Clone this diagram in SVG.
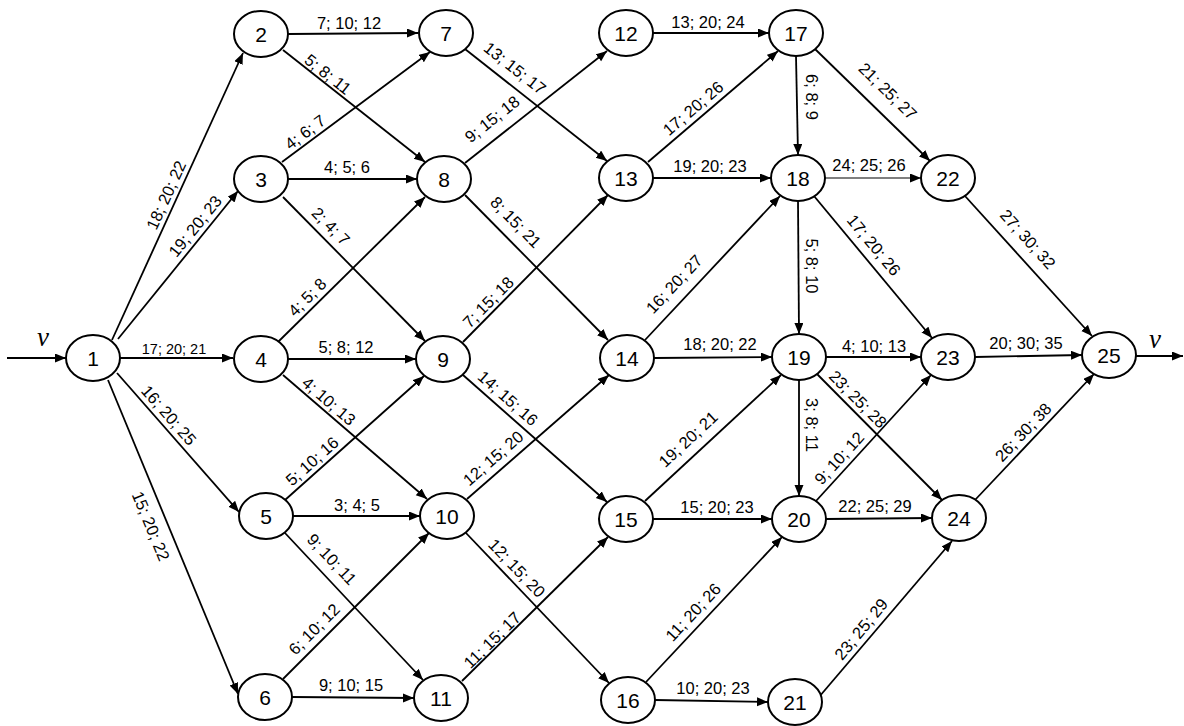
<svg xmlns="http://www.w3.org/2000/svg" width="1184" height="726" viewBox="0 0 1184 726">
<defs>
<marker id="ah" markerUnits="userSpaceOnUse" markerWidth="12" markerHeight="10" refX="11" refY="4.5" orient="auto">
<path d="M0,0 L11,4.5 L0,9 Z" fill="#000"/>
</marker>
<style>
.e{stroke:#000;stroke-width:1.8;fill:none;marker-end:url(#ah)}
.thin{stroke-width:1.2}
.n ellipse{fill:#fff;stroke:#000;stroke-width:2}
.n text{font-family:"Liberation Sans",Arial,sans-serif;font-size:21px;text-anchor:middle;dominant-baseline:central;fill:#000}
.l{font-family:"Liberation Sans",Arial,sans-serif;font-size:16.5px;text-anchor:middle;dominant-baseline:central;fill:#000}
.v{font-family:"Liberation Serif","Times New Roman",serif;font-style:italic;font-size:27px;text-anchor:middle;fill:#000}
</style>
</defs>
<rect width="1184" height="726" fill="#fff"/>
<g id="connectors">
<path class="e" d="M7,358 L66,358"/>
<path class="e" d="M112,340 L243,53"/>
<path class="e" d="M118,339 L238,191"/>
<path class="e" d="M120,358 L233,358"/>
<path class="e" d="M117,373 L239,512"/>
<path class="e" d="M108,380 L238,694"/>
<path class="e" d="M288,34 L418,33"/>
<path class="e" d="M283,50 L425,162"/>
<path class="e" d="M282,162 L430,52"/>
<path class="e" d="M288,179 L417,179"/>
<path class="e" d="M283,197 L425,341"/>
<path class="e" d="M278,342 L425,197"/>
<path class="e" d="M288,359 L416,359"/>
<path class="e" d="M283,375 L427,499"/>
<path class="e" d="M285,500 L424,376"/>
<path class="e" d="M293,516 L420,516"/>
<path class="e" d="M285,533 L423,680"/>
<path class="e" d="M283,679 L429,533"/>
<path class="e" d="M292,697 L414,698"/>
<path class="e" d="M465,49 L607,161"/>
<path class="e" d="M465,163 L607,51"/>
<path class="e" d="M465,195 L608,340"/>
<path class="e" d="M463,342 L608,195"/>
<path class="e" d="M463,375 L607,502"/>
<path class="e" d="M467,499 L609,375"/>
<path class="e" d="M466,533 L609,683"/>
<path class="e" d="M462,681 L608,537"/>
<path class="e" d="M653,33 L769,33"/>
<path class="e" d="M648,162 L778,51"/>
<path class="e" d="M653,178 L771,178"/>
<path class="e" d="M645,340 L780,196"/>
<path class="e" d="M654,358 L772,357"/>
<path class="e" d="M645,501 L781,375"/>
<path class="e" d="M653,519 L772,519"/>
<path class="e" d="M646,682 L782,537"/>
<path class="e" d="M655,700 L768,702"/>
<path class="e" d="M796,56 L798,155"/>
<path class="e" d="M815,49 L930,161"/>
<path class="e thin" d="M825,178 L921,178"/>
<path class="e" d="M798,201 L799,334"/>
<path class="e" d="M814,196 L932,338"/>
<path class="e" d="M799,380 L799,496"/>
<path class="e" d="M826,357 L921,357"/>
<path class="e" d="M817,374 L942,500"/>
<path class="e" d="M816,501 L931,375"/>
<path class="e" d="M826,519 L932,518"/>
<path class="e" d="M819,697 L952,541"/>
<path class="e" d="M965,196 L1092,336"/>
<path class="e" d="M975,357 L1082,355"/>
<path class="e" d="M975,500 L1094,374"/>
<path class="e" d="M1136,356 L1183,356"/>
</g>
<g id="node1" class="n"><ellipse cx="93" cy="358" rx="27" ry="23"/><text x="93" y="358">1</text></g>
<g id="node2" class="n"><ellipse cx="261" cy="34" rx="27" ry="23"/><text x="261" y="34">2</text></g>
<g id="node3" class="n"><ellipse cx="261" cy="179" rx="27" ry="23"/><text x="261" y="179">3</text></g>
<g id="node4" class="n"><ellipse cx="261" cy="359" rx="27" ry="23"/><text x="261" y="359">4</text></g>
<g id="node5" class="n"><ellipse cx="266" cy="516" rx="27" ry="23"/><text x="266" y="516">5</text></g>
<g id="node6" class="n"><ellipse cx="265" cy="697" rx="27" ry="23"/><text x="265" y="697">6</text></g>
<g id="node7" class="n"><ellipse cx="446" cy="33" rx="27" ry="23"/><text x="446" y="33">7</text></g>
<g id="node8" class="n"><ellipse cx="444" cy="179" rx="27" ry="23"/><text x="444" y="179">8</text></g>
<g id="node9" class="n"><ellipse cx="443" cy="359" rx="27" ry="23"/><text x="443" y="359">9</text></g>
<g id="node10" class="n"><ellipse cx="447" cy="516" rx="27" ry="23"/><text x="447" y="516">10</text></g>
<g id="node11" class="n"><ellipse cx="441" cy="698" rx="27" ry="23"/><text x="441" y="698">11</text></g>
<g id="node12" class="n"><ellipse cx="626" cy="33" rx="27" ry="23"/><text x="626" y="33">12</text></g>
<g id="node13" class="n"><ellipse cx="626" cy="178" rx="27" ry="23"/><text x="626" y="178">13</text></g>
<g id="node14" class="n"><ellipse cx="627" cy="358" rx="27" ry="23"/><text x="627" y="358">14</text></g>
<g id="node15" class="n"><ellipse cx="626" cy="519" rx="27" ry="23"/><text x="626" y="519">15</text></g>
<g id="node16" class="n"><ellipse cx="628" cy="700" rx="27" ry="23"/><text x="628" y="700">16</text></g>
<g id="node17" class="n"><ellipse cx="796" cy="33" rx="27" ry="23"/><text x="796" y="33">17</text></g>
<g id="node18" class="n"><ellipse cx="798" cy="178" rx="27" ry="23"/><text x="798" y="178">18</text></g>
<g id="node19" class="n"><ellipse cx="799" cy="357" rx="27" ry="23"/><text x="799" y="357">19</text></g>
<g id="node20" class="n"><ellipse cx="799" cy="519" rx="27" ry="23"/><text x="799" y="519">20</text></g>
<g id="node21" class="n"><ellipse cx="795" cy="702" rx="27" ry="23"/><text x="795" y="702">21</text></g>
<g id="node22" class="n"><ellipse cx="948" cy="178" rx="27" ry="23"/><text x="948" y="178">22</text></g>
<g id="node23" class="n"><ellipse cx="948" cy="357" rx="27" ry="23"/><text x="948" y="357">23</text></g>
<g id="node24" class="n"><ellipse cx="959" cy="518" rx="27" ry="23"/><text x="959" y="518">24</text></g>
<g id="node25" class="n"><ellipse cx="1109" cy="355" rx="27" ry="23"/><text x="1109" y="355">25</text></g>
<g id="edge-labels">
<text class="v" x="43" y="346">v</text>
<text class="v" x="1155" y="348">v</text>
<text class="l" transform="translate(166,195) rotate(-65.5)">18; 20; 22</text>
<text class="l" transform="translate(195,226) rotate(-51)">19; 20; 23</text>
<text class="l" transform="translate(174,349)" style="font-size:14.5px">17; 20; 21</text>
<text class="l" transform="translate(169,415) rotate(48.7)">16; 20; 25</text>
<text class="l" transform="translate(151,526) rotate(67.5)">15; 20; 22</text>
<text class="l" transform="translate(349,23)">7; 10; 12</text>
<text class="l" transform="translate(328,74) rotate(38.3)">5; 8; 11</text>
<text class="l" transform="translate(305,132) rotate(-36.6)">4; 6; 7</text>
<text class="l" transform="translate(347,167)">4; 5; 6</text>
<text class="l" transform="translate(331,226) rotate(45.4)">2; 4; 7</text>
<text class="l" transform="translate(307,297) rotate(-44.6)">4; 5; 8</text>
<text class="l" transform="translate(346,347)">5; 8; 12</text>
<text class="l" transform="translate(329,401) rotate(40.7)">4; 10; 13</text>
<text class="l" transform="translate(312,461) rotate(-41.7)">5; 10; 16</text>
<text class="l" transform="translate(357,505)">3; 4; 5</text>
<text class="l" transform="translate(332,559) rotate(46.8)">9; 10; 11</text>
<text class="l" transform="translate(314,629) rotate(-45)">6; 10; 12</text>
<text class="l" transform="translate(351,685)">9; 10; 15</text>
<text class="l" transform="translate(515,68) rotate(38.3)">13; 15; 17</text>
<text class="l" transform="translate(492,119) rotate(-38.3)">9; 15; 18</text>
<text class="l" transform="translate(516,222) rotate(45.4)">8; 15; 21</text>
<text class="l" transform="translate(488,302) rotate(-45.4)">7; 15; 18</text>
<text class="l" transform="translate(508,398) rotate(41.4)">14; 15; 16</text>
<text class="l" transform="translate(493,458) rotate(-41.1)">12; 15; 20</text>
<text class="l" transform="translate(517,568) rotate(46.4)">12; 15; 20</text>
<text class="l" transform="translate(492,640) rotate(-44.6)">11; 15; 17</text>
<text class="l" transform="translate(708,22)">13; 20; 24</text>
<text class="l" transform="translate(693,108) rotate(-40.5)">17; 20; 26</text>
<text class="l" transform="translate(710,166)">19; 20; 23</text>
<text class="l" transform="translate(674,284) rotate(-46.8)">16; 20; 27</text>
<text class="l" transform="translate(720,344)">18; 20; 22</text>
<text class="l" transform="translate(688,439) rotate(-42.8)">19; 20; 21</text>
<text class="l" transform="translate(717,507)">15; 20; 23</text>
<text class="l" transform="translate(693,612) rotate(-46.8)">11; 20; 26</text>
<text class="l" transform="translate(713,688)">10; 20; 23</text>
<text class="l" transform="translate(812,97) rotate(90)">6; 8; 9</text>
<text class="l" transform="translate(888,91) rotate(44.2)">21; 25; 27</text>
<text class="l" transform="translate(869,165)">24; 25; 26</text>
<text class="l" transform="translate(812,266) rotate(90)">5; 8; 10</text>
<text class="l" transform="translate(874,245) rotate(50.3)">17; 20; 26</text>
<text class="l" transform="translate(874,346)">4; 10; 13</text>
<text class="l" transform="translate(858,399) rotate(45.2)">23; 25; 28</text>
<text class="l" transform="translate(812,425) rotate(90)">3; 8; 11</text>
<text class="l" transform="translate(839,458) rotate(-47.6)">9; 10; 12</text>
<text class="l" transform="translate(875,506)">22; 25; 29</text>
<text class="l" transform="translate(861,629) rotate(-50.6)">23; 25; 29</text>
<text class="l" transform="translate(1028,239) rotate(47.8)">27; 30; 32</text>
<text class="l" transform="translate(1026,343)">20; 30; 35</text>
<text class="l" transform="translate(1023,432) rotate(-46.6)">26; 30; 38</text>
</g>
</svg>
